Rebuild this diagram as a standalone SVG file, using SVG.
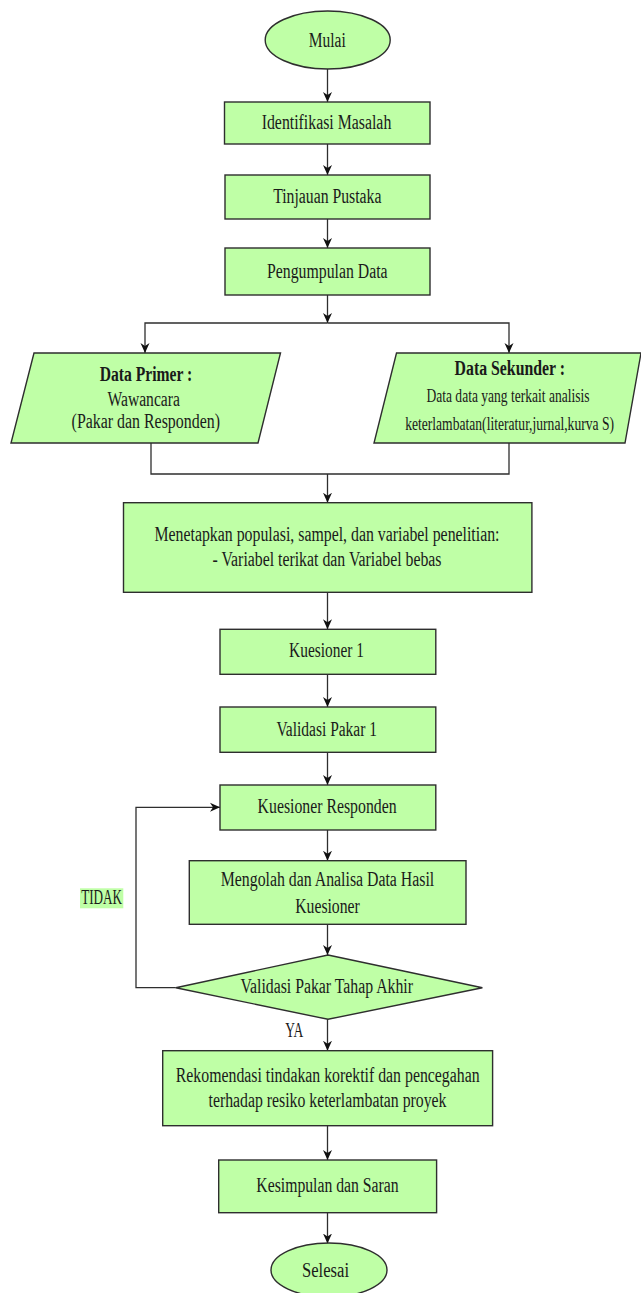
<svg xmlns="http://www.w3.org/2000/svg" width="641" height="1293" viewBox="0 0 641 1293">
<style>
.n{fill:#bfffa6;stroke:#2e2e2e;stroke-width:1.4}
.c{fill:none;stroke:#2e2e2e;stroke-width:1.3}
.t{font-family:"Liberation Serif","Times New Roman",serif;font-size:20px;fill:#1a1a1a;text-anchor:middle}
.s{font-size:18px}
.b{font-weight:bold}
</style>
<defs>
<marker id="arr" viewBox="0 0 10 10" refX="10" refY="5" markerWidth="10" markerHeight="10" orient="auto" markerUnits="userSpaceOnUse">
<path d="M0,0.5 L10,5 L0,9.5 L3,5 Z" fill="#111"/>
</marker>
</defs>
<rect width="641" height="1293" fill="#ffffff"/>
<g id="connectors">
<path class="c" d="M327.5,69 V102" marker-end="url(#arr)"/>
<path class="c" d="M327.5,144 V175" marker-end="url(#arr)"/>
<path class="c" d="M327.5,219 V248" marker-end="url(#arr)"/>
<path class="c" d="M327.5,295 V323" marker-end="url(#arr)"/>
<path class="c" d="M327.5,323 H145 V353" marker-end="url(#arr)"/>
<path class="c" d="M327.5,323 H509 V353" marker-end="url(#arr)"/>
<path class="c" d="M151,443 V474 H509 V443"/>
<path class="c" d="M327.5,474 V502.7" marker-end="url(#arr)"/>
<path class="c" d="M327.5,592.3 V629.3" marker-end="url(#arr)"/>
<path class="c" d="M327.5,674.3 V707" marker-end="url(#arr)"/>
<path class="c" d="M327.5,752.3 V785" marker-end="url(#arr)"/>
<path class="c" d="M327.5,830 V860.7" marker-end="url(#arr)"/>
<path class="c" d="M327.5,924.3 V955" marker-end="url(#arr)"/>
<path class="c" d="M327.5,1019.3 V1050.7" marker-end="url(#arr)"/>
<path class="c" d="M327.5,1125.7 V1160" marker-end="url(#arr)"/>
<path class="c" d="M327.5,1212.7 V1243.5" marker-end="url(#arr)"/>
<path class="c" d="M175.8,987.7 H136 V807.3 H220" marker-end="url(#arr)"/>
</g>
<g id="label-tidak">
<rect x="80" y="888.3" width="43.3" height="20" fill="#bfffa6"/>
<text class="t" x="101.6" y="904" textLength="40.9" lengthAdjust="spacingAndGlyphs">TIDAK</text>
</g>
<g id="label-ya">
<text class="t" x="294.3" y="1036.5" textLength="18" lengthAdjust="spacingAndGlyphs">YA</text>
</g>
<g id="mulai">
<ellipse class="n" cx="327.7" cy="40" rx="62.5" ry="29"/>
<text class="t" x="327.2" y="46.5" textLength="37" lengthAdjust="spacingAndGlyphs">Mulai</text>
</g>
<g id="identifikasi">
<rect class="n" x="224.5" y="102" width="205.5" height="42"/>
<text class="t" x="326.5" y="129" textLength="129.6" lengthAdjust="spacingAndGlyphs">Identifikasi Masalah</text>
</g>
<g id="tinjauan">
<rect class="n" x="225" y="175" width="205" height="44"/>
<text class="t" x="327.3" y="203" textLength="108.3" lengthAdjust="spacingAndGlyphs">Tinjauan Pustaka</text>
</g>
<g id="pengumpulan">
<rect class="n" x="225" y="248" width="205" height="47"/>
<text class="t" x="327.3" y="277.5" textLength="120.6" lengthAdjust="spacingAndGlyphs">Pengumpulan Data</text>
</g>
<g id="data-primer">
<polygon class="n" points="34,353 280.5,353 258,443 11,443"/>
<text class="t b" x="146" y="380.7" textLength="92.5" lengthAdjust="spacingAndGlyphs">Data Primer :</text>
<text class="t" x="143.7" y="406" textLength="72.4" lengthAdjust="spacingAndGlyphs">Wawancara</text>
<text class="t" x="145.8" y="428.3" textLength="148.4" lengthAdjust="spacingAndGlyphs">(Pakar dan Responden)</text>
</g>
<g id="data-sekunder">
<polygon class="n" points="396.5,353 641,353 625,443 374,443"/>
<text class="t b" x="509.8" y="375" textLength="110.4" lengthAdjust="spacingAndGlyphs">Data Sekunder :</text>
<text class="t s" x="508" y="401.5" textLength="163.1" lengthAdjust="spacingAndGlyphs">Data data yang terkait analisis</text>
<text class="t s" x="509.6" y="429.5" textLength="208.9" lengthAdjust="spacingAndGlyphs">keterlambatan(literatur,jurnal,kurva S)</text>
</g>
<g id="menetapkan">
<rect class="n" x="123.5" y="502.7" width="408.4" height="89.6"/>
<text class="t" x="327" y="540.5" textLength="345" lengthAdjust="spacingAndGlyphs">Menetapkan populasi, sampel, dan variabel penelitian:</text>
<text class="t" x="327" y="566" textLength="229" lengthAdjust="spacingAndGlyphs">- Variabel terikat dan Variabel bebas</text>
</g>
<g id="kuesioner1">
<rect class="n" x="220" y="629.3" width="215.8" height="45"/>
<text class="t" x="326.5" y="657" textLength="74.8" lengthAdjust="spacingAndGlyphs">Kuesioner 1</text>
</g>
<g id="validasi1">
<rect class="n" x="220" y="707" width="215.8" height="45.3"/>
<text class="t" x="326.7" y="735.5" textLength="100.6" lengthAdjust="spacingAndGlyphs">Validasi Pakar 1</text>
</g>
<g id="kuesioner-responden">
<rect class="n" x="220" y="785" width="215.8" height="45"/>
<text class="t" x="327.1" y="812.5" textLength="139" lengthAdjust="spacingAndGlyphs">Kuesioner Responden</text>
</g>
<g id="mengolah">
<rect class="n" x="189.3" y="860.7" width="276.7" height="63.6"/>
<text class="t" x="327.5" y="886" textLength="213.4" lengthAdjust="spacingAndGlyphs">Mengolah dan Analisa Data Hasil</text>
<text class="t" x="327.5" y="912.5" textLength="64.6" lengthAdjust="spacingAndGlyphs">Kuesioner</text>
</g>
<g id="validasi-akhir">
<polygon class="n" points="328,955 482.4,987.7 328,1019.3 175.8,987.7"/>
<text class="t" x="326.7" y="993" textLength="172.6" lengthAdjust="spacingAndGlyphs">Validasi Pakar Tahap Akhir</text>
</g>
<g id="rekomendasi">
<rect class="n" x="162.7" y="1050.7" width="329.9" height="75"/>
<text class="t" x="327.7" y="1081.5" textLength="303.8" lengthAdjust="spacingAndGlyphs">Rekomendasi tindakan korektif dan pencegahan</text>
<text class="t" x="327.5" y="1106.5" textLength="238" lengthAdjust="spacingAndGlyphs">terhadap resiko keterlambatan proyek</text>
</g>
<g id="kesimpulan">
<rect class="n" x="218.7" y="1160" width="217.9" height="52.7"/>
<text class="t" x="327.5" y="1192" textLength="142.3" lengthAdjust="spacingAndGlyphs">Kesimpulan dan Saran</text>
</g>
<g id="selesai">
<ellipse class="n" cx="329" cy="1270" rx="58" ry="27"/>
<text class="t" x="325.5" y="1276.7" textLength="47" lengthAdjust="spacingAndGlyphs">Selesai</text>
</g>
</svg>
